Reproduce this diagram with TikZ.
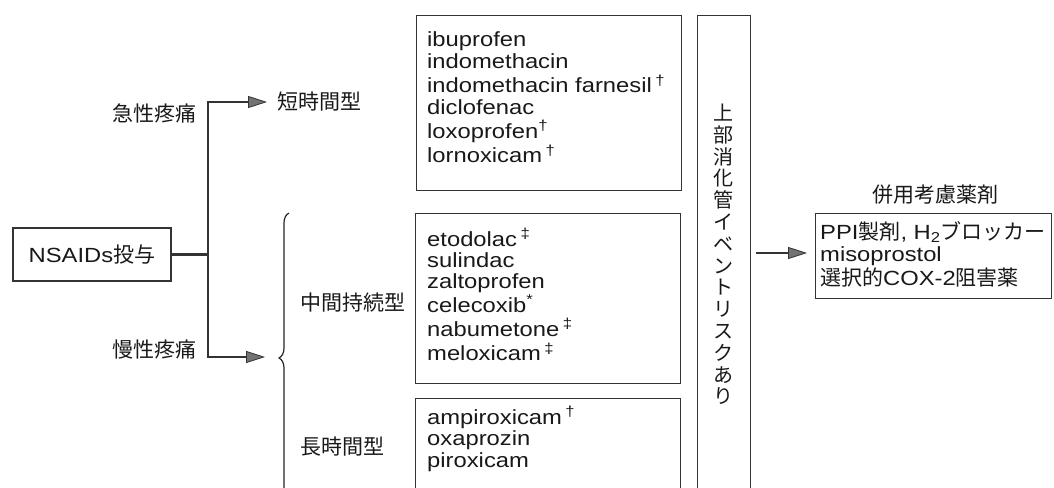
\documentclass[tikz,border=0pt]{standalone}
\usepackage{fontspec}
\setmainfont{Liberation Sans}[FakeStretch=1.16]
\newfontfamily\jp{Noto Sans CJK JP}
\usetikzlibrary{arrows.meta,decorations.pathreplacing}
\newcommand\latf{\fontsize{20.5}{21.5}\selectfont}
\newcommand\latm{\fontsize{20.5}{21.2}\selectfont}
\newcommand\latr{\fontsize{20.5}{22}\selectfont}
\newcommand\jpf{\jp\fontsize{21}{22}\selectfont}
\begin{document}
\begin{tikzpicture}[x=1pt,y=-1pt,
  box/.style={draw=black!80, line width=1.1pt, inner sep=0pt, anchor=north west},
  lbl/.style={font=\jpf, inner sep=0pt, text=black!90},
  txt/.style={inner sep=0pt, anchor=base west, text=black!90},
  conn/.style={draw=black!80, line width=2.8pt},
  arr/.style={conn, -{Triangle[length=19pt,width=12pt,fill=black!55,line width=0.8pt]}},
]
\useasboundingbox (0,0) rectangle (1054,487);
\fill[white] (0,0) rectangle (1054,487);
\clip (0,0) rectangle (1054,487);

% left node
\node[draw=black!80, line width=1.1pt, minimum width=158pt, minimum height=53pt, inner sep=0pt, text=black!90, font=\latf] (nsaid) at (92,254.5) {NSAIDs{\jpf 投与}};
\coordinate (j) at (208,254.5);
\node[lbl, anchor=east] (acute) at (197,113) {急性疼痛};
\node[lbl, anchor=east] (chronic) at (197,350) {慢性疼痛};

% type labels
\node[lbl, anchor=west] (short) at (277,102) {短時間型};
\node[lbl, anchor=west] (mid) at (300,303) {中間持続型};
\node[lbl, anchor=west] (long) at (300,447) {長時間型};
\coordinate (btip) at (280,357);

% connectors
\draw[conn] (nsaid.east) -- (j);
\draw[arr, shorten >=10pt] (j) |- (short.west);
\draw[arr, shorten >=15pt] (j) |- (btip);

% brace
\draw[black!85, line width=1.2pt, decorate, decoration={brace, amplitude=10pt}] (289,503) -- (289,213);

% drug boxes
\node[box, minimum width=265pt, minimum height=175pt] (sbox) at (416,15) {};
\node[txt, font=\latf] (stxt) at (427,46.7) {\begin{tabular}[t]{@{}l@{}}
ibuprofen\\
indomethacin\\
indomethacin farnesil\,\textsuperscript{†}\\
diclofenac\\
loxoprofen\textsuperscript{†}\\
lornoxicam\,\textsuperscript{†}
\end{tabular}};

\node[box, minimum width=265pt, minimum height=170pt] (mbox) at (415,213) {};
\node[txt, font=\latm] (mtxt) at (427,246) {\begin{tabular}[t]{@{}l@{}}
etodolac\,\textsuperscript{‡}\\
sulindac\\
zaltoprofen\\
celecoxib\textsuperscript{*}\\
nabumetone\,\textsuperscript{‡}\\
meloxicam\,\textsuperscript{‡}
\end{tabular}};

\node[box, minimum width=265pt, minimum height=110pt] (lbox) at (415,398) {};
\node[txt, font=\latf] (ltxt) at (427,424) {\begin{tabular}[t]{@{}l@{}}
ampiroxicam\,\textsuperscript{†}\\
oxaprozin\\
piroxicam
\end{tabular}};

% tall box
\node[box, minimum width=53pt, minimum height=500pt] (tall) at (697,15) {};
\node[inner sep=0pt, text=black!90, font=\jp\fontsize{20}{21.8}\selectfont, align=center, text width=24pt] (vt) at (723,254.5) {上\\部\\消\\化\\管\\イ\\ベ\\ン\\ト\\リ\\ス\\ク\\あ\\り};

% right side
\node[lbl] (cons) at (935,195) {併用考慮薬剤};
\node[box, minimum width=236pt, minimum height=85pt] (rbox) at (815,213) {};
\node[txt, font=\latr] (rtxt) at (820,239) {\begin{tabular}[t]{@{}l@{}}
PPI{\jpf 製剤}, H\textsubscript{2}{\jpf ブロッカー}\\
misoprostol\\
{\jpf 選択的}COX-2{\jpf 阻害薬}
\end{tabular}};

\draw[arr, shorten <=5pt, shorten >=8pt] (tall.east |- 0,253) -- (rbox.west |- 0,253);
\end{tikzpicture}
\end{document}
